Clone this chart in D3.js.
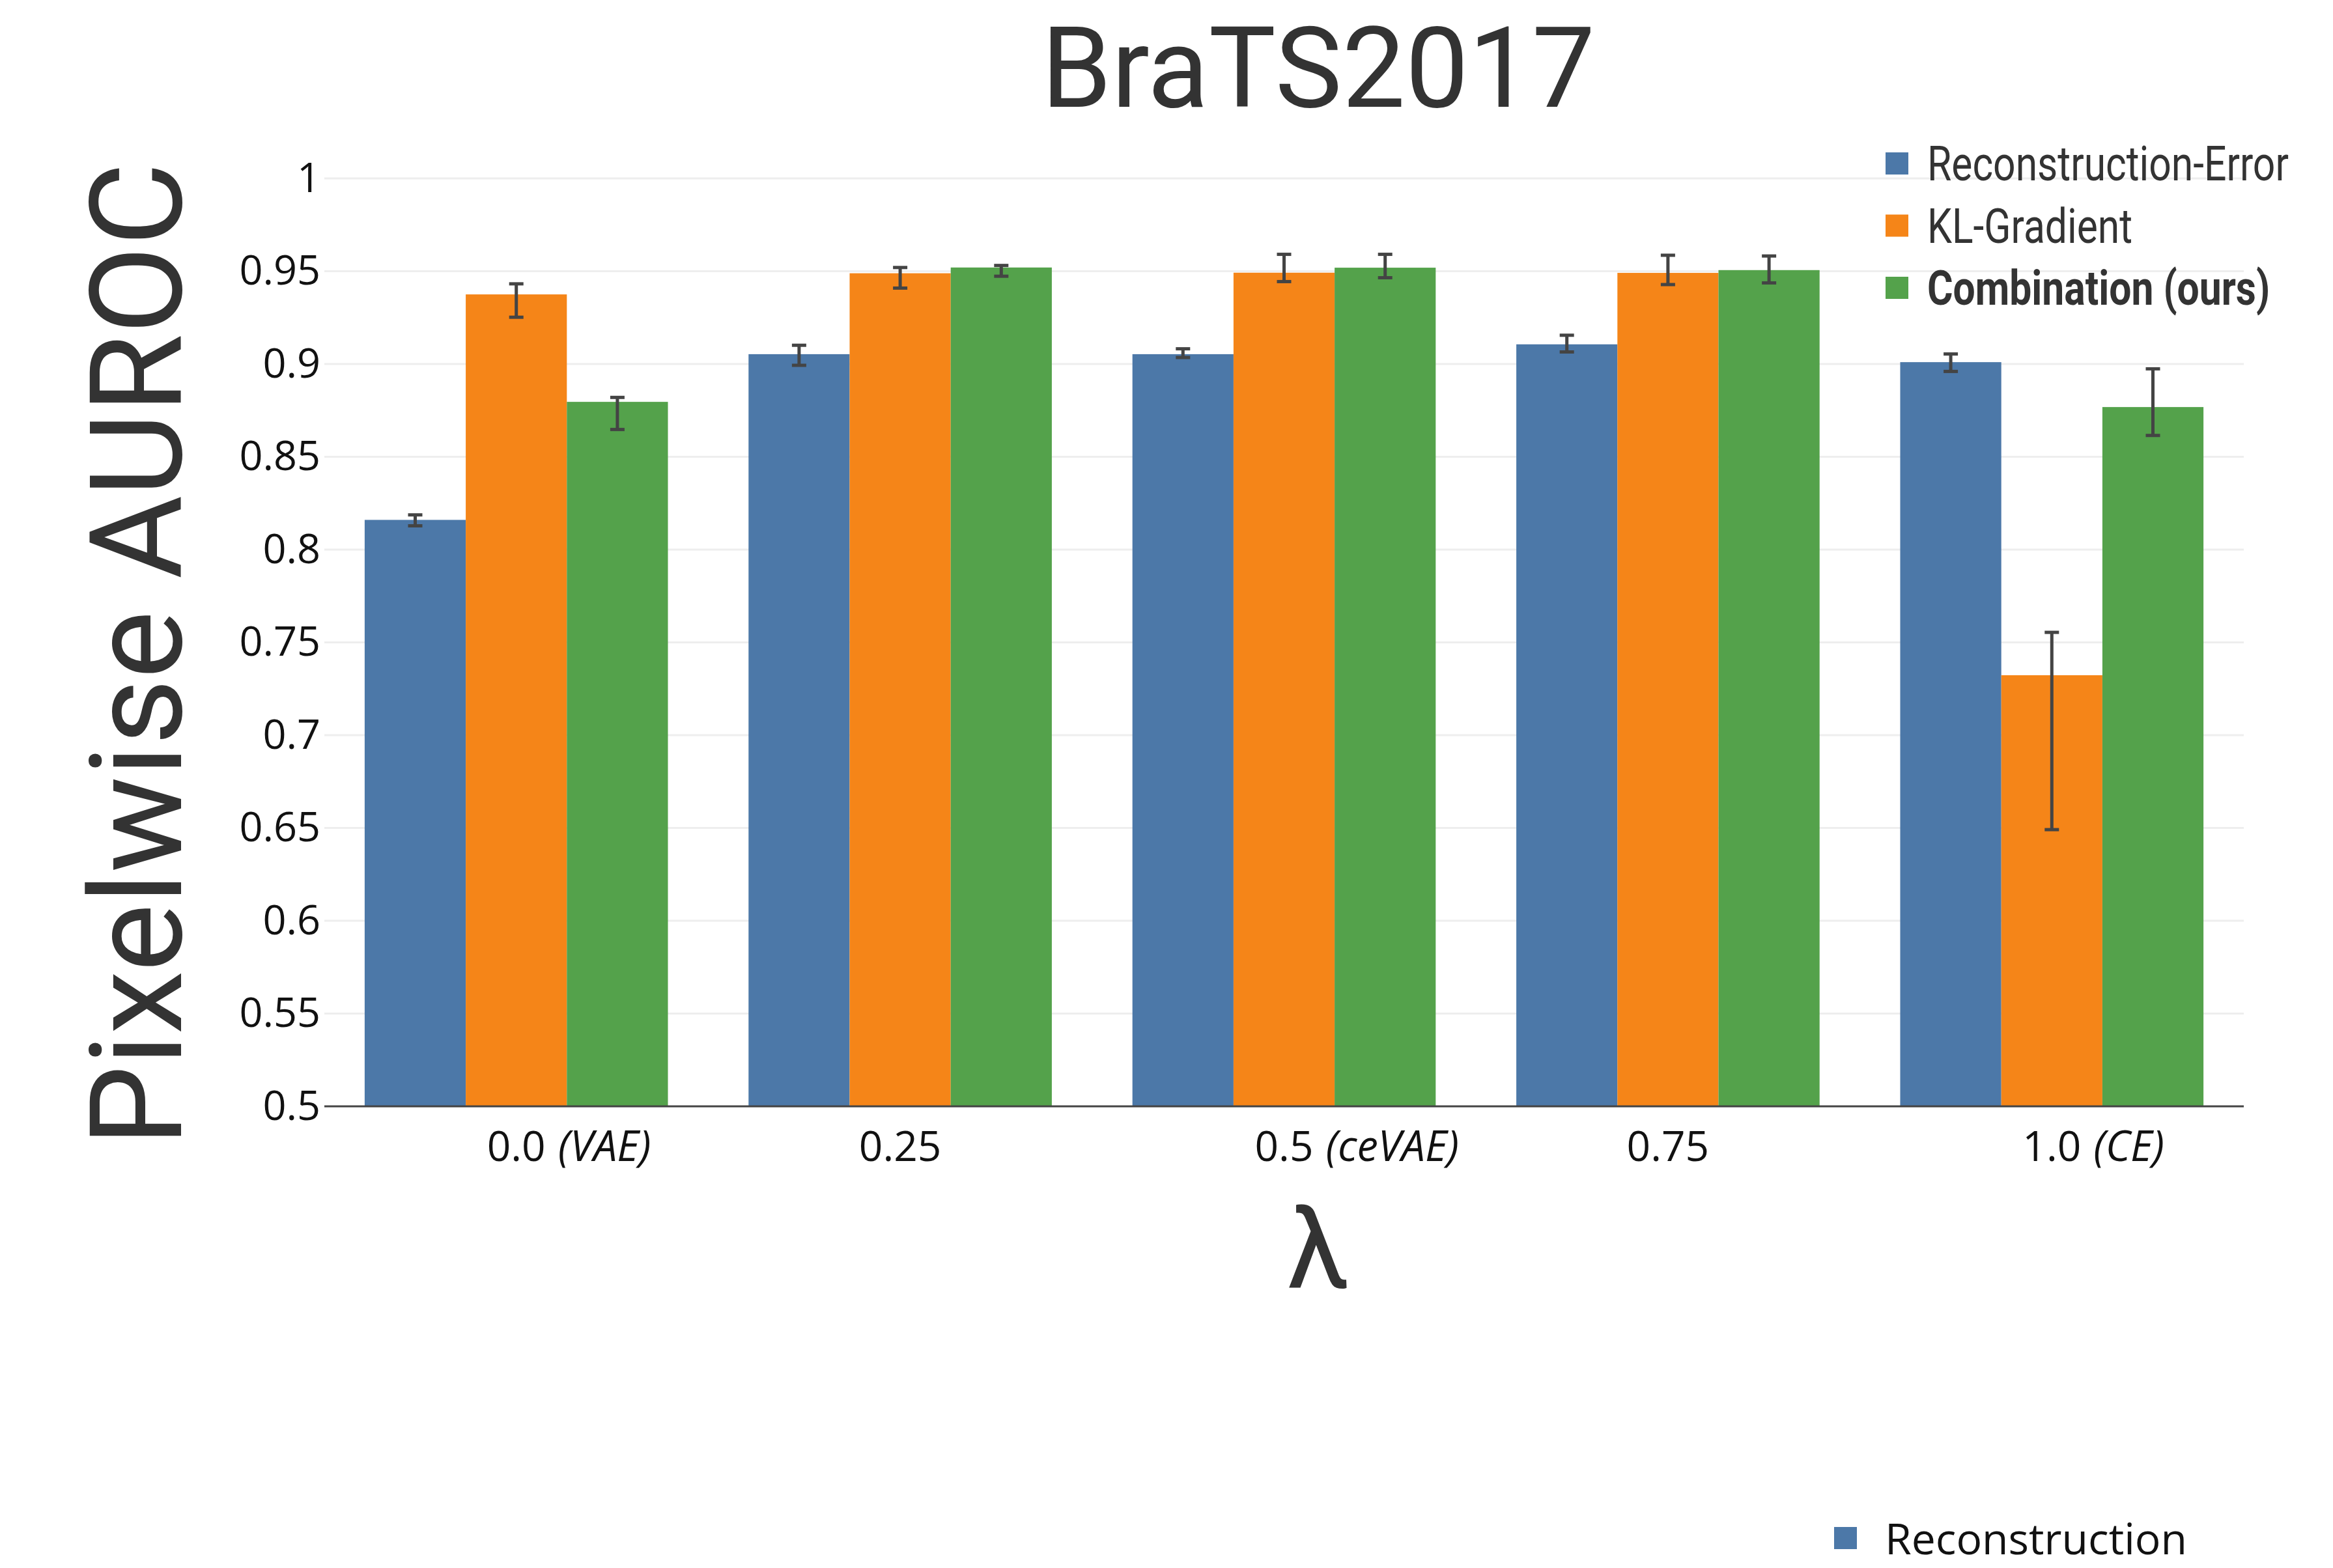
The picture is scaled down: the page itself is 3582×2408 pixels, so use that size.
<!DOCTYPE html>
<html>
<head>
<meta charset="utf-8">
<script src="https://cdn.jsdelivr.net/npm/d3@7"></script>
<style>
  body { margin: 0; background: #fff; }
  svg { display: block; }
</style>
</head>
<body>
<div id="chart"></div>
<script>
const categories = ["0.0", "0.25", "0.5", "0.75", "1.0"];
const categoryNotes = ["(VAE)", "", "(ceVAE)", "", "(CE)"];
const seriesNames = ["Reconstruction-Error", "KL-Gradient", "Combination (ours)"];

const reconValues = [0.816, 0.9053, 0.9053, 0.9106, 0.901];
const reconHigh = [0.8187, 0.9101, 0.9082, 0.9155, 0.9054];
const reconLow = [0.8128, 0.8993, 0.9035, 0.9065, 0.8960];

const klValues = [0.9375, 0.9489, 0.9492, 0.9491, 0.7323];
const klHigh = [0.9432, 0.952, 0.9591, 0.9586, 0.7554];
const klLow = [0.9252, 0.9409, 0.9444, 0.9428, 0.6491];

const combValues = [0.8796, 0.952, 0.9519, 0.9506, 0.8768];
const combHigh = [0.882, 0.9531, 0.9591, 0.9582, 0.8974];
const combLow = [0.8647, 0.9473, 0.9465, 0.9437, 0.8615];

const yTicks = [0.5, 0.55, 0.6, 0.65, 0.7, 0.75, 0.8, 0.85, 0.9, 0.95, 1];
const yTickLabels = ["0.5", "0.55", "0.6", "0.65", "0.7", "0.75", "0.8", "0.85", "0.9", "0.95", "1"];

const colors = ["#4c78a8", "#f58518", "#54a24b"];

const width = 3582;
const height = 2408;
const margin = { top: 274, right: 137, bottom: 709, left: 498 };

const series = [
    { name: seriesNames[0], values: reconValues, hi: reconHigh, lo: reconLow },
    { name: seriesNames[1], values: klValues, hi: klHigh, lo: klLow },
    { name: seriesNames[2], values: combValues, hi: combHigh, lo: combLow }
];

const svg = d3.select("#chart").append("svg")
    .attr("width", width)
    .attr("height", height);

const x0 = d3.scaleBand()
    .domain(categories)
    .range([margin.left, width - margin.right])
    .paddingInner(0.21)
    .paddingOuter(0.105);

const x1 = d3.scaleBand()
    .domain(seriesNames)
    .range([0, x0.bandwidth()]);

const y = d3.scaleLinear()
    .domain([0.5, 1])
    .range([height - margin.bottom, margin.top]);

// grid
svg.append("g")
    .selectAll("line")
    .data(yTicks.slice(1))
    .enter().append("line")
    .attr("x1", margin.left)
    .attr("x2", width - margin.right)
    .attr("y1", d => y(d))
    .attr("y2", d => y(d))
    .attr("stroke", "#eeeeee")
    .attr("stroke-width", 3);

// y tick labels
const yAxis = d3.axisLeft(y)
    .tickValues(yTicks)
    .tickFormat((d, i) => yTickLabels[i])
    .tickSize(0)
    .tickPadding(6);

svg.append("g")
    .attr("transform", `translate(${margin.left},0)`)
    .call(yAxis)
    .call(g => g.select(".domain").remove())
    .selectAll("text")
    .attr("font-family", "'Open Sans', sans-serif")
    .attr("font-size", 63)
    .attr("fill", "#111");

// bars
const groups = svg.append("g")
    .selectAll("g")
    .data(series)
    .enter().append("g")
    .attr("fill", (d, i) => colors[i]);

groups.selectAll("rect")
    .data(s => categories.map((c, i) => ({ name: s.name, cat: c, v: s.values[i] })))
    .enter().append("rect")
    .attr("x", d => x0(d.cat) + x1(d.name))
    .attr("y", d => y(d.v))
    .attr("width", x1.bandwidth())
    .attr("height", d => y(0.5) - y(d.v));

// error bars
const errs = [];
series.forEach(s => {
    categories.forEach((c, i) => {
        errs.push({ name: s.name, cat: c, hi: s.hi[i], lo: s.lo[i] });
    });
});

const errG = svg.append("g")
    .attr("stroke", "#444")
    .attr("stroke-width", 5);

errs.forEach(d => {
    const cx = x0(d.cat) + x1(d.name) + x1.bandwidth() / 2;
    errG.append("line")
        .attr("x1", cx).attr("x2", cx)
        .attr("y1", y(d.hi)).attr("y2", y(d.lo));
    errG.append("line")
        .attr("x1", cx - 11).attr("x2", cx + 11)
        .attr("y1", y(d.hi)).attr("y2", y(d.hi));
    errG.append("line")
        .attr("x1", cx - 11).attr("x2", cx + 11)
        .attr("y1", y(d.lo)).attr("y2", y(d.lo));
});

// x axis line
svg.append("line")
    .attr("x1", margin.left)
    .attr("x2", width - margin.right)
    .attr("y1", y(0.5))
    .attr("y2", y(0.5))
    .attr("stroke", "#444")
    .attr("stroke-width", 3);

// x tick labels: number centred on the group, italic note after it
categories.forEach((c, i) => {
    const cx = x0(c) + x0.bandwidth() / 2;
    const t = svg.append("text")
        .attr("x", cx)
        .attr("y", 1783)
        .attr("text-anchor", "middle")
        .attr("font-family", "'Open Sans', sans-serif")
        .attr("font-size", 64)
        .attr("fill", "#111")
        .text(c);
    if (categoryNotes[i]) {
        const w = t.node().getComputedTextLength();
        svg.append("text")
            .attr("x", cx + w / 2 + 19)
            .attr("y", 1783)
            .attr("font-family", "'Open Sans', sans-serif")
            .attr("font-style", "italic")
            .attr("font-size", 65)
            .attr("fill", "#111")
            .text(categoryNotes[i]);
    }
});

// titles
svg.append("text")
    .attr("x", 2024)
    .attr("y", 164)
    .attr("text-anchor", "middle")
    .attr("font-family", "Roboto, sans-serif")
    .attr("font-size", 173)
    .attr("fill", "#333")
    .text("BraTS2017");

svg.append("text")
    .attr("x", 2024)
    .attr("y", 1977)
    .attr("text-anchor", "middle")
    .attr("font-family", "Roboto, sans-serif")
    .attr("font-size", 173)
    .attr("fill", "#333")
    .text("λ");

svg.append("text")
    .attr("transform", "translate(278,1005) rotate(-90)")
    .attr("text-anchor", "middle")
    .attr("font-family", "Roboto, sans-serif")
    .attr("font-size", 197)
    .attr("fill", "#333")
    .text("Pixelwise AUROC");

// legend (condensed look)
const legend = svg.append("g");
const legendItems = legend.selectAll("g")
    .data(seriesNames)
    .enter().append("g")
    .attr("transform", (d, i) => `translate(2895, ${251 + i * 95.5})`);

legendItems.append("rect")
    .attr("x", 0)
    .attr("y", -17)
    .attr("width", 35)
    .attr("height", 34)
    .attr("fill", (d, i) => colors[i]);

const legendText = legendItems.append("text")
    .attr("font-family", "Roboto, sans-serif")
    .attr("font-size", 75)
    .attr("font-weight", (d, i) => i === 2 ? "bold" : "normal")
    .attr("fill", "#333")
    .text(d => d);

const natural = legendText.node().getComputedTextLength();
const squeeze = 555 / natural;
legendText.attr("transform", `translate(64, 26) scale(${squeeze},1)`);

// second legend, mostly cut off at the bottom
svg.append("rect")
    .attr("x", 2816)
    .attr("y", 2345)
    .attr("width", 35)
    .attr("height", 34)
    .attr("fill", colors[0]);

svg.append("text")
    .attr("x", 2894)
    .attr("y", 2387)
    .attr("font-family", "'Open Sans', sans-serif")
    .attr("font-size", 66)
    .attr("fill", "#111")
    .text("Reconstruction");
</script>
</body>
</html>
